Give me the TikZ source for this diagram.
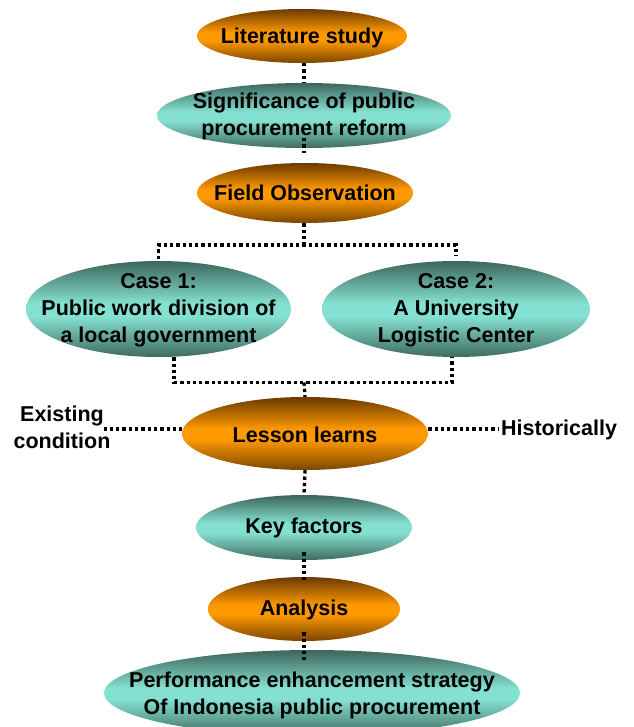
\documentclass[tikz,border=0pt]{standalone}
\usepackage{fontspec}
\setmainfont{Liberation Sans}
\usetikzlibrary{shapes.geometric}
\definecolor{otop}{HTML}{6B3A00}
\definecolor{omid}{HTML}{FF9900}
\definecolor{obot}{HTML}{7A4600}
\definecolor{ttop}{HTML}{3D655C}
\definecolor{tmid}{HTML}{84E0D0}
\definecolor{tbot}{HTML}{3F6B61}
\pgfdeclareverticalshading{oshade}{100bp}{color(0bp)=(obot); color(25bp)=(obot); color(46bp)=(omid); color(53bp)=(omid); color(75bp)=(otop); color(100bp)=(otop)}
\pgfdeclareverticalshading{tshade}{100bp}{color(0bp)=(tbot); color(25bp)=(tbot); color(46bp)=(tmid); color(53bp)=(tmid); color(75bp)=(ttop); color(100bp)=(ttop)}
\tikzset{
  oell/.style={ellipse, shading=oshade, inner sep=0pt},
  tell/.style={ellipse, shading=tshade, inner sep=0pt},
  lbl/.style={font=\bfseries\fontsize{21.5}{27}\selectfont, align=center, inner sep=0pt, text=black},
  conn/.style={line width=3.3pt, dash pattern=on 3.3pt off 3pt, black},
}
\begin{document}
\begin{tikzpicture}[x=1pt,y=-1pt]
\useasboundingbox (0,0) rectangle (633,727);
\clip (0,0) rectangle (633,727);
% ellipses
\node[oell, minimum width=210pt, minimum height=54pt] (lit) at (302,36) {};
\node[tell, minimum width=294pt, minimum height=65pt] (sig) at (304,115.5) {};
\node[oell, minimum width=216pt, minimum height=60pt] (fld) at (305,193) {};
\node[tell, minimum width=265pt, minimum height=96pt] (c1) at (158.5,309) {};
\node[tell, minimum width=268pt, minimum height=96pt] (c2) at (456,309) {};
\node[oell, minimum width=246pt, minimum height=73pt] (les) at (305,433.5) {};
\node[tell, minimum width=216pt, minimum height=65pt] (key) at (304,527.5) {};
\node[oell, minimum width=192pt, minimum height=64pt] (ana) at (304,609) {};
\node[tell, minimum width=416pt, minimum height=86pt] (perf) at (312,693) {};
% side labels
\node[lbl] (exist) at (62,427) {Existing\\condition};
\node[lbl] (hist) at (559,430) {Historically};
% connectors
\coordinate (br) at (304,245);
\coordinate (mj) at (304,382.5);
\draw[conn] (lit.south -| sig.north) -- (sig.north);
\draw[conn] ([yshift=10pt]sig.south) -- ([yshift=10pt]sig.south |- fld.north);
\draw[conn] (fld.south -| br) -- (br);
\draw[conn] ([yshift=2pt]c1.north) |- (c2.north |- br) -- ([yshift=5pt]c2.north);
\draw[conn] ([xshift=15.5pt]c1.south) |- ([xshift=-4pt]c2.south |- mj) -- ([xshift=-4pt]c2.south);
\draw[conn] (mj) -- (les.north);
\draw[conn] (exist.east) ++(-7,2) -- (les.west |- 0,429);
\draw[conn, shorten >=3pt] (les.east |- 0,429) -- (hist.west |- 0,429);
\draw[conn] (les.south) -- (key.north);
\draw[conn, shorten <=-8pt, shorten >=-3pt] (key.south) -- (key.south |- ana.north);
\draw[conn, shorten <=-9pt, shorten >=-10pt] (ana.south) -- (ana.south |- perf.north);
% texts
\node[lbl] (litT) at ([yshift=-1.5pt]lit) {Literature study};
\node[lbl] (sigT) at ([yshift=-1pt]sig) {Significance of public\\procurement reform};
\node[lbl] (fldT) at (fld) {Field Observation};
\node[lbl] (c1T) at ([yshift=-1pt]c1) {Case 1:\\Public work division of\\a local government};
\node[lbl] (c2T) at ([yshift=-1pt]c2) {Case 2:\\A University\\Logistic Center};
\node[lbl] (lesT) at ([yshift=-1.5pt]les) {Lesson learns};
\node[lbl] (keyT) at (key) {Key factors};
\node[lbl] (anaT) at ([yshift=-1pt]ana) {Analysis};
\node[lbl] (perfT) at ([yshift=-2.5pt]perf) {Performance enhancement strategy\\Of Indonesia public procurement};
\end{tikzpicture}
\end{document}
